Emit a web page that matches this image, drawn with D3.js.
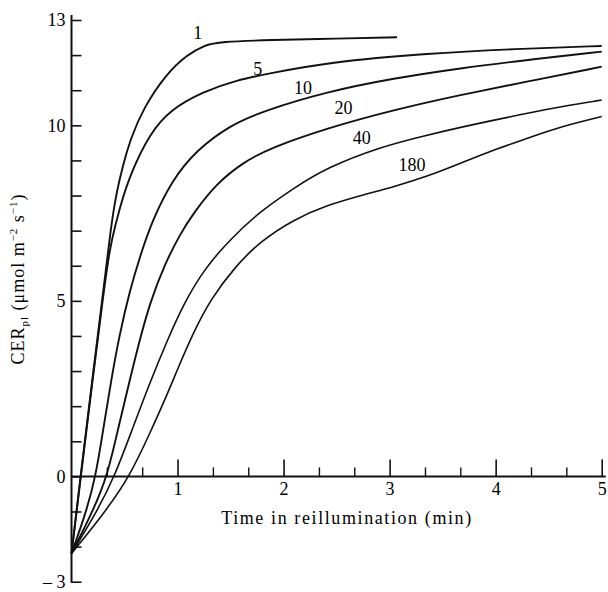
<!DOCTYPE html>
<html>
<head>
<meta charset="utf-8">
<script src="https://cdn.jsdelivr.net/npm/d3@7"></script>
<style>
  html, body { margin: 0; padding: 0; background: #fff; }
  svg { display: block; }
  text { font-family: "Liberation Serif", "Times New Roman", serif; fill: #000; }
</style>
</head>
<body>
<svg id="chart" width="608" height="592"></svg>
<script>
// ---- data (time in min, CER in µmol m-2 s-1) ----
const seriesNames = ["1", "5", "10", "20", "40", "180"];
const curve1 = [[0,-2.2],[0.085,0],[0.2,2.85],[0.29,5.05],[0.335,6.15],[0.365,6.9],[0.395,7.55],[0.43,8.15],[0.48,8.8],[0.552,9.58],[0.677,10.49],[0.898,11.48],[1.087,12.0],[1.25,12.28],[1.4,12.38],[1.873,12.43],[2.5,12.47],[3.07,12.51]];
const curve5 = [[0,-2.2],[0.088,0],[0.203,2.85],[0.295,5.05],[0.345,6.15],[0.38,6.75],[0.45,7.6],[0.552,8.6],[0.74,9.77],[0.929,10.44],[1.243,10.96],[1.558,11.29],[1.873,11.48],[2.41,11.79],[3.35,12.05],[4.29,12.19],[5,12.26]];
const curve10 = [[0,-2.2],[0.14,-1],[0.228,0],[0.3,1.35],[0.375,2.75],[0.45,4.0],[0.55,5.3],[0.65,6.3],[0.756,7.25],[0.95,8.45],[1.181,9.3],[1.495,10.0],[1.8,10.4],[2.41,10.96],[3.04,11.34],[3.67,11.63],[4.29,11.86],[5,12.1]];
const curve20 = [[0,-2.2],[0.2,-1],[0.338,0],[0.45,1.5],[0.55,2.75],[0.64,3.85],[0.74,4.95],[0.88,6.05],[1.024,6.9],[1.15,7.5],[1.37,8.35],[1.621,8.95],[1.873,9.35],[2.41,9.92],[3.04,10.44],[3.67,10.87],[4.29,11.24],[5,11.67]];
const curve40 = [[0,-2.2],[0.24,-1],[0.407,0],[0.58,1.4],[0.75,2.75],[0.9,3.85],[1.055,4.9],[1.25,5.9],[1.495,6.75],[1.78,7.55],[2.09,8.2],[2.41,8.8],[2.91,9.38],[3.3,9.68],[3.67,9.95],[4.29,10.34],[4.61,10.53],[5,10.72]];
const curve180 = [[0,-2.2],[0.32,-1],[0.549,0],[0.75,1.3],[0.898,2.3],[0.992,3.0],[1.15,4.1],[1.307,5.03],[1.55,6.0],[1.78,6.69],[2.09,7.31],[2.41,7.73],[2.75,8.02],[3.04,8.25],[3.35,8.54],[3.67,8.92],[3.98,9.3],[4.29,9.62],[4.61,9.96],[5,10.25]];
// curve label anchor points (time, CER)
const labelAt = [[1.19,12.63],[1.756,11.6],[2.184,11.06],[2.564,10.49],[2.736,9.63],[3.212,8.87]];
const yTickValues = [-3,-2,-1,0,1,2,3,4,5,6,7,8,9,10,11,12,13];
const yTickLabels = { "-3": "\u2013 3", "0": "0", "5": "5", "10": "10", "13": "13" };
const xMajorTicks = [1,2,3,4,5];
const xMinorTicks = [1/3,2/3,4/3,5/3,7/3,8/3,10/3,11/3,13/3,14/3];
const xTitle = "Time in reillumination (min)";

const allCurves = [curve1, curve5, curve10, curve20, curve40, curve180];

const svg = d3.select("#chart");
const x = d3.scaleLinear().domain([0,5]).range([71.5, 601.7]);
const y = d3.scaleLinear().domain([-3,13]).range([581.7, 20]);

// Y axis
const yAxis = d3.axisLeft(y)
  .tickValues(yTickValues)
  .tickSize(-10)
  .tickSizeOuter(0)
  .tickPadding(6)
  .tickFormat(d => yTickLabels[String(d)] || "");
const gy = svg.append("g").attr("transform", `translate(${x(0)},0)`).call(yAxis);
gy.select(".domain").remove();
gy.selectAll(".tick line").attr("stroke", "#111").attr("stroke-width", 1.6);
gy.selectAll(".tick text").attr("font-size", 18).attr("fill", "#000");
svg.append("line").attr("x1", x(0)).attr("x2", x(0)).attr("y1", y(13) - 5).attr("y2", y(-3) + 1)
  .attr("stroke", "#111").attr("stroke-width", 2);

// X axis (at y=0)
const xAxisMajor = d3.axisBottom(x).tickValues(xMajorTicks).tickSize(-17).tickSizeOuter(0).tickPadding(6)
  .tickFormat(d3.format("d"));
const gx = svg.append("g").attr("transform", `translate(0,${y(0)})`).call(xAxisMajor);
gx.select(".domain").remove();
gx.selectAll(".tick line").attr("stroke", "#111").attr("stroke-width", 1.6);
gx.selectAll(".tick text").attr("font-size", 18).attr("fill", "#000");
const xAxisMinor = d3.axisBottom(x).tickValues(xMinorTicks).tickSize(-9).tickSizeOuter(0).tickFormat("");
const gxm = svg.append("g").attr("transform", `translate(0,${y(0)})`).call(xAxisMinor);
gxm.select(".domain").remove();
gxm.selectAll(".tick line").attr("stroke", "#111").attr("stroke-width", 1.4);
svg.append("line").attr("x1", x(0)).attr("x2", x(5) + 4).attr("y1", y(0)).attr("y2", y(0))
  .attr("stroke", "#111").attr("stroke-width", 2);

// curves
const line = d3.line().x(d => x(d[0])).y(d => y(d[1])).curve(d3.curveBasis);
svg.append("g").selectAll("path").data(allCurves).join("path")
  .attr("d", line)
  .attr("fill", "none")
  .attr("stroke", "#111")
  .attr("stroke-width", (d, i) => i < 4 ? 1.9 : 1.6)
  .attr("stroke-linejoin", "round");

// curve labels
svg.append("g").selectAll("text").data(seriesNames).join("text")
  .attr("x", (d, i) => x(labelAt[i][0]))
  .attr("y", (d, i) => y(labelAt[i][1]))
  .attr("text-anchor", "middle")
  .attr("dominant-baseline", "central")
  .attr("font-size", 18)
  .text(d => d);

// x title
svg.append("text")
  .attr("x", 347).attr("y", 524)
  .attr("text-anchor", "middle")
  .attr("font-size", 18)
  .attr("letter-spacing", 1.6)
  .text(xTitle);

// y title
const yt = svg.append("text")
  .attr("transform", "translate(24,279) rotate(-90)")
  .attr("text-anchor", "middle")
  .attr("font-size", 18)
  .attr("letter-spacing", 1);
yt.append("tspan").text("CER");
yt.append("tspan").attr("font-size", 11).attr("dy", 4).text("pl");
yt.append("tspan").attr("dy", -4).text(" (\u03bcmol m");
yt.append("tspan").attr("font-size", 11).attr("dy", -7).text("\u22122");
yt.append("tspan").attr("dy", 7).text(" s");
yt.append("tspan").attr("font-size", 11).attr("dy", -7).text("\u22121");
yt.append("tspan").attr("dy", 7).text(")");
</script>
</body>
</html>
